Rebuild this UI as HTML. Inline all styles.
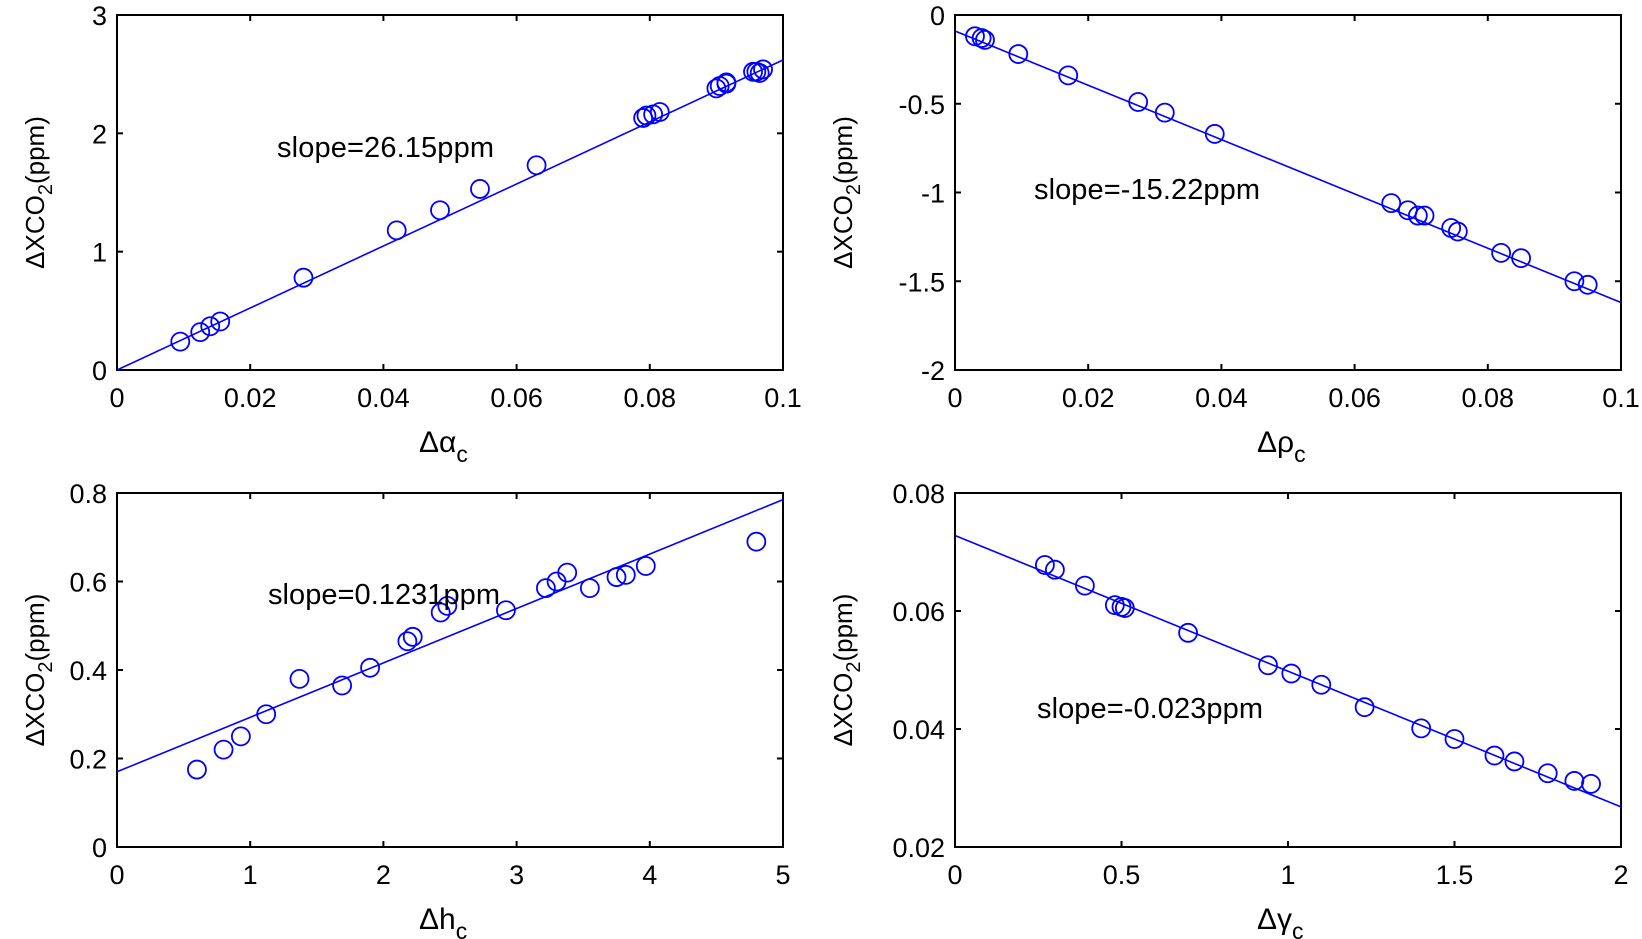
<!DOCTYPE html>
<html><head><meta charset="utf-8"><style>body{margin:0;background:#fff}svg{display:block}</style></head>
<body>
<svg id="s" width="1642" height="939" xmlns="http://www.w3.org/2000/svg" font-family="Liberation Sans, Arial, sans-serif"></svg>
<script>
const S=document.getElementById('s');let h='';
function P(o){const{x0,x1,y0,y1,xmin,xmax,ymin,ymax}=o;
const X=v=>x0+(v-xmin)/(xmax-xmin)*(x1-x0),Y=v=>y1-(v-ymin)/(ymax-ymin)*(y1-y0);
o.xt.forEach(t=>{const px=X(t.v);h+=`<line x1="${px}" y1="${y1}" x2="${px}" y2="${y1-6}" stroke="#000" stroke-width="2"/><line x1="${px}" y1="${y0}" x2="${px}" y2="${y0+6}" stroke="#000" stroke-width="2"/><text x="${px}" y="${y1+37}" font-size="27" text-anchor="middle">${t.l}</text>`});
o.yt.forEach(t=>{const py=Y(t.v);h+=`<line x1="${x0}" y1="${py}" x2="${x0+6}" y2="${py}" stroke="#000" stroke-width="2"/><line x1="${x1}" y1="${py}" x2="${x1-6}" y2="${py}" stroke="#000" stroke-width="2"/><text x="${x0-10}" y="${py+10}" font-size="27" text-anchor="end">${t.l}</text>`});
h+=`<rect x="${x0}" y="${y0}" width="${x1-x0}" height="${y1-y0}" fill="none" stroke="#000" stroke-width="2"/>`;
h+=`<line x1="${X(o.l[0])}" y1="${Y(o.l[1])}" x2="${X(o.l[2])}" y2="${Y(o.l[3])}" stroke="#0000ff" stroke-width="1.6"/>`;
o.p.forEach(p=>h+=`<circle cx="${X(p[0])}" cy="${Y(p[1])}" r="9" fill="none" stroke="#0000ff" stroke-width="1.8"/>`);
h+=`<text x="${o.t[0]}" y="${o.t[1]}" font-size="29" textLength="${o.t[3]}">${o.t[2]}</text>`;
const cy=(y0+y1)/2,lx=x0-o.yo;
h+=`<text transform="translate(${lx},${cy}) rotate(-90)" font-size="26" text-anchor="middle">ΔXCO<tspan font-size="20" dy="8">2</tspan><tspan dy="-8">(ppm)</tspan></text>`;
h+=`<text x="${(x0+x1)/2-31}" y="${y1+82}" font-size="30">Δ${o.xl}<tspan font-size="23" dy="10">c</tspan></text>`;}
const r=(a,b,s,f)=>{const o=[];for(let v=a;v<=b+1e-9;v+=s)o.push({v:v,l:f(v)});return o};
const f2=v=>(Math.abs(v)<1e-9?'0':String(+v.toFixed(3)));
P({yo:73,x0:117,x1:783,y0:15,y1:370,xmin:0,xmax:0.1,ymin:0,ymax:3,xt:r(0,0.1,0.02,f2),yt:r(0,3,1,f2),l:[0,0,0.1,2.62],t:[277,157,'slope=26.15ppm',217],xl:'α',
p:[[0.0095,0.24],[0.0125,0.32],[0.014,0.37],[0.0155,0.41],[0.028,0.78],[0.042,1.18],[0.0485,1.35],[0.0545,1.53],[0.063,1.73],[0.079,2.13],[0.0795,2.15],[0.0805,2.16],[0.0815,2.18],[0.09,2.38],[0.0905,2.4],[0.0915,2.42],[0.0915,2.43],[0.0955,2.52],[0.096,2.52],[0.0965,2.51],[0.097,2.54]]});
P({yo:103,x0:955,x1:1621,y0:15,y1:370,xmin:0,xmax:0.1,ymin:-2,ymax:0,xt:r(0,0.1,0.02,f2),yt:r(-2,0,0.5,f2),l:[0,-0.09,0.1,-1.62],t:[1034,199,'slope=-15.22ppm',226],xl:'ρ',
p:[[0.003,-0.12],[0.004,-0.13],[0.0045,-0.14],[0.0095,-0.22],[0.017,-0.34],[0.0275,-0.49],[0.0315,-0.55],[0.039,-0.67],[0.0655,-1.06],[0.068,-1.1],[0.0695,-1.13],[0.0705,-1.13],[0.0745,-1.2],[0.0755,-1.22],[0.082,-1.34],[0.085,-1.37],[0.093,-1.5],[0.095,-1.52]]});
P({yo:73,x0:117,x1:783,y0:493,y1:847,xmin:0,xmax:5,ymin:0,ymax:0.8,xt:r(0,5,1,f2),yt:r(0,0.8,0.2,f2),l:[0,0.17,5,0.785],t:[268,604,'slope=0.1231ppm',232],xl:'h',
p:[[0.6,0.175],[0.8,0.22],[0.93,0.25],[1.12,0.3],[1.37,0.38],[1.69,0.365],[1.9,0.405],[2.18,0.465],[2.22,0.475],[2.43,0.53],[2.48,0.545],[2.92,0.535],[3.22,0.585],[3.3,0.6],[3.38,0.62],[3.55,0.585],[3.75,0.61],[3.82,0.615],[3.97,0.635],[4.8,0.69]]});
P({yo:103,x0:955,x1:1621,y0:493,y1:847,xmin:0,xmax:2,ymin:0.02,ymax:0.08,xt:r(0,2,0.5,f2),yt:r(0.02,0.08,0.02,f2),l:[0,0.0728,2,0.0268],t:[1037,718,'slope=-0.023ppm',226],xl:'γ',
p:[[0.27,0.0678],[0.3,0.067],[0.39,0.0643],[0.48,0.061],[0.5,0.0607],[0.51,0.0605],[0.7,0.0563],[0.94,0.0508],[1.01,0.0494],[1.1,0.0475],[1.23,0.0437],[1.4,0.0401],[1.5,0.0383],[1.62,0.0355],[1.68,0.0345],[1.78,0.0325],[1.86,0.0312],[1.91,0.0307]]});
S.innerHTML=h;
</script>
</body></html>
